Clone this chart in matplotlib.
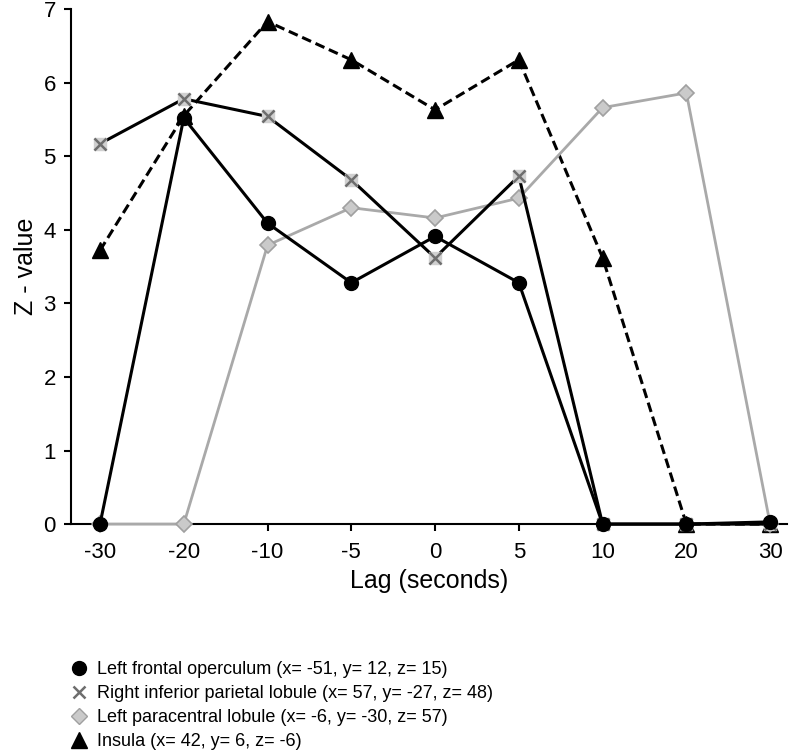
import matplotlib
matplotlib.use("Agg")
import matplotlib.pyplot as plt
from matplotlib.lines import Line2D

plt.rcParams['font.family'] = ['Liberation Sans', 'DejaVu Sans']

lags = ['-30', '-20', '-10', '-5', '0', '5', '10', '20', '30']

operculum = [0.0, 5.52, 4.09, 3.28, 3.91, 3.28, 0.0, 0.0, 0.03]
parietal = [5.17, 5.78, 5.54, 4.68, 3.62, 4.73, 0.0, 0.0, 0.0]
paracentral = [0.0, 0.0, 3.79, 4.30, 4.16, 4.43, 5.66, 5.86, 0.0]
insula = [3.72, 5.55, 6.83, 6.31, 5.63, 6.31, 3.62, 0.0, 0.0]

labels = ['Left frontal operculum (x= -51, y= 12, z= 15)',
          'Right inferior parietal lobule (x= 57, y= -27, z= 48)',
          'Left paracentral lobule (x= -6, y= -30, z= 57)',
          'Insula (x= 42, y= 6, z= -6)']

fig = plt.figure(figsize=(7.91, 7.53), dpi=100)
ax = fig.add_axes([0.0898, 0.304, 0.905, 0.684])

x = list(range(len(lags)))

ax.plot(x, insula, color='black', lw=2.2, ls=(0, (3.2, 1.6)),
        marker='^', ms=11, mfc='black', mec='black', clip_on=False, zorder=3)
ax.plot(x, paracentral, color='#a9a9a9', lw=2.0,
        marker='D', ms=8, mfc='#cacaca', mec='#a0a0a0', mew=1.2, clip_on=False, zorder=4)
ax.plot(x, parietal, color='black', lw=2.2, clip_on=False, zorder=5)
ax.plot(x, parietal, ls='none', marker='s', ms=9, mfc='#d0d0d0', mec='#d0d0d0',
        clip_on=False, zorder=5)
ax.plot(x, parietal, ls='none', marker='x', ms=8, mec='#6e6e6e', mew=1.8,
        clip_on=False, zorder=5)
ax.plot(x, operculum, color='black', lw=2.2,
        marker='o', ms=10, mfc='black', mec='black', clip_on=False, zorder=6)

ax.set_xlim(-0.346, 8.2)
ax.set_ylim(0, 7)
ax.set_xticks(x)
ax.set_xticklabels(lags)
ax.set_yticks(range(8))
ax.spines['top'].set_visible(False)
ax.spines['right'].set_visible(False)
ax.spines['left'].set_linewidth(1.5)
ax.spines['bottom'].set_linewidth(1.5)
ax.tick_params(axis='both', labelsize=16, width=1.5, length=5, direction='out')
ax.tick_params(axis='x', pad=8)
ax.tick_params(axis='y', pad=6)
ax.set_xlabel('Lag (seconds)', fontsize=18, labelpad=4)
ax.set_ylabel('Z - value', fontsize=18, labelpad=4)

handles = [
    Line2D([], [], ls='none', marker='o', ms=10, mfc='black', mec='black'),
    Line2D([], [], ls='none', marker='x', ms=8, mec='#6e6e6e', mew=1.8),
    Line2D([], [], ls='none', marker='D', ms=8, mfc='#cacaca', mec='#a0a0a0'),
    Line2D([], [], ls='none', marker='^', ms=11, mfc='black', mec='black'),
]
fig.legend(handles, labels, loc='upper left', bbox_to_anchor=(0.082, 0.132),
           frameon=False, fontsize=13, handlelength=0.8, handletextpad=0.6,
           labelspacing=0.4, borderaxespad=0)

fig.savefig('out.png', dpi=100)
